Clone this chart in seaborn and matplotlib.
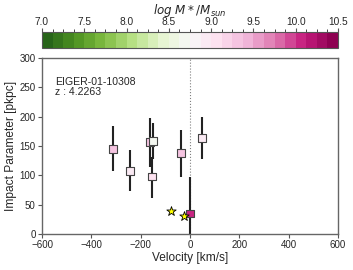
import numpy as np
import pandas as pd
import matplotlib
matplotlib.use("Agg")
import matplotlib.pyplot as plt
import matplotlib.colors as mcolors
import seaborn as sns

sns.set_style("ticks")
plt.rcParams['font.family'] = ['Liberation Sans', 'DejaVu Sans']

# galaxies
velocity = [-313, -243, -162, -149, -155, -38, 50, 0]
impact = [145, 108, 157, 159, 98, 138, 164, 35]
err_low = [38, 35, 42, 32, 36, 40, 36, 35]
err_high = [39, 35, 41, 31, 33, 40, 36, 63]
logmass = [9.3, 8.9, 9.3, 8.7, 9.1, 9.3, 8.9, 10.1]

# stars (absorbers)
star_vel = [-78, -24]
star_imp = [39, 31]

cbar_ticks = [7.0, 7.5, 8.0, 8.5, 9.0, 9.5, 10.0, 10.5]
x_ticks = [-600, -400, -200, 0, 200, 400, 600]
y_ticks = [0, 50, 100, 150, 200, 250, 300]

df = pd.DataFrame({"vel": velocity, "b": impact, "m": logmass})

bounds = np.arange(7.0, 10.5 + 0.001, 0.125)
cmap = plt.get_cmap("PiYG_r", len(bounds) - 1)
norm = mcolors.BoundaryNorm(bounds, cmap.N)

fig = plt.figure(figsize=(3.53, 2.70), dpi=100)
ax = fig.add_axes([0.119, 0.1333, 0.8385, 0.652])
cax = fig.add_axes([0.119, 0.824, 0.8385, 0.056])

ax.axvline(0, color="grey", ls=":", lw=0.8, zorder=1)
ax.errorbar(velocity, impact, yerr=[err_low, err_high], fmt="none",
            ecolor="#222222", elinewidth=1.5, zorder=2)
sns.scatterplot(data=df, x="vel", y="b", hue="m", palette=cmap, hue_norm=norm,
                marker="s", s=32, edgecolor="#444444", linewidth=0.8,
                legend=False, ax=ax, zorder=3)
sns.scatterplot(x=star_vel, y=star_imp, marker="*", s=50, color="yellow",
                edgecolor="black", linewidth=0.6, ax=ax, zorder=4)

ax.set_xlim(-600, 600)
ax.set_ylim(0, 300)
ax.set_xticks(x_ticks)
ax.set_yticks(y_ticks)
ax.tick_params(labelsize=7, length=3, width=0.8, color="#555555", pad=1.5)
ax.set_xlabel("Velocity [km/s]", fontsize=8.6, labelpad=1)
ax.set_ylabel("Impact Parameter [pkpc]", fontsize=8.6, labelpad=2)
for sp in ax.spines.values():
    sp.set_color("#666666")
    sp.set_linewidth(1.0)
ax.text(0.045, 0.89, "EIGER-01-10308\nz : 4.2263", transform=ax.transAxes,
        fontsize=7.6, va="top", ha="left", linespacing=1.0)

sm = matplotlib.cm.ScalarMappable(norm=norm, cmap=cmap)
cb = fig.colorbar(sm, cax=cax, orientation="horizontal", ticks=cbar_ticks)
cax.xaxis.set_ticks_position("top")
cax.xaxis.set_label_position("top")
cax.set_xticklabels([f"{t:.1f}" for t in cbar_ticks])
cax.tick_params(labelsize=7.3, length=3, width=0.8, color="#555555", pad=1)
cb.outline.set_edgecolor("#555555")
cb.set_label(r"$log\ M*/M_{sun}$", fontsize=8.6, labelpad=2)

fig.savefig("out.png", dpi=100)
